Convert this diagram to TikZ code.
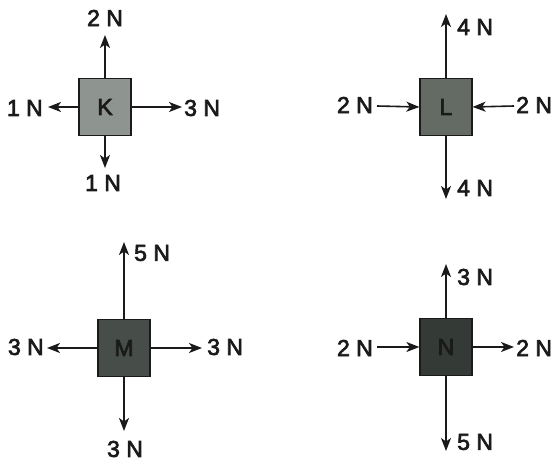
\documentclass[tikz,border=0pt]{standalone}
\usepackage{fontspec}
\setmainfont{Liberation Sans}
\newfontfamily\lblfont[FakeBold=3]{Liberation Sans}
\usetikzlibrary{arrows.meta}
\definecolor{kfill}{HTML}{8E948F}
\definecolor{lfill}{HTML}{646B65}
\definecolor{mfill}{HTML}{474E49}
\definecolor{nfill}{HTML}{343B36}
\definecolor{ink}{HTML}{1A1A1A}
\begin{document}
\begin{tikzpicture}[x=1pt,y=-1pt,
  box/.style={draw=ink, line width=1.2pt, minimum width=52pt, minimum height=57pt, inner sep=0pt, font=\lblfont\fontsize{23}{25}\selectfont, text=ink},
  force/.style={line width=1.6pt, draw=ink, -{Stealth[length=13pt,width=10pt,inset=3.5pt]}},
  lbl/.style={inner sep=0pt, font=\lblfont\fontsize{23}{25}\selectfont, text=ink}]
\useasboundingbox (0,0) rectangle (556,465);
\fill[white] (0,0) rectangle (556,465);
% K
\node[box, fill=kfill] (K) at (105,107) {K};
\coordinate (Ku) at (105,35);
\coordinate (Kl) at (48,107);
\coordinate (Kr) at (182,107);
\coordinate (Kd) at (105,168);
\draw[force] (K.north) -- (Ku);
\draw[force] (K.west) -- (Kl);
\draw[force] (K.east) -- (Kr);
\draw[force] (K.south) -- (Kd);
\node[lbl] (Kul) at (105,18) {2 N};
\node[lbl, anchor=east] (Kll) at (43,108) {1 N};
\node[lbl, anchor=west] (Krl) at (184,108) {3 N};
\node[lbl] (Kdl) at (103,183) {1 N};
% L
\node[box, fill=lfill] (L) at (446,107) {L};
\coordinate (Lu) at (446,14);
\coordinate (Ld) at (446,199);
\coordinate (Ll) at (377,106);
\coordinate (Lr) at (514,106);
\draw[force] (L.north) -- (Lu);
\draw[force] (L.south) -- (Ld);
\draw[force] (Ll) -- (L.west);
\draw[force] (Lr) -- (L.east);
\node[lbl, anchor=west] (Lul) at (457,27) {4 N};
\node[lbl, anchor=west] (Ldl) at (457,188) {4 N};
\node[lbl, anchor=east] (Lll) at (373,105) {2 N};
\node[lbl, anchor=west] (Lrl) at (516,105) {2 N};
% M
\node[box, fill=mfill] (M) at (124,348) {M};
\coordinate (Mu) at (124,242);
\coordinate (Md) at (124,431);
\coordinate (Ml) at (47,348);
\coordinate (Mr) at (202,348);
\draw[force] (M.north) -- (Mu);
\draw[force] (M.south) -- (Md);
\draw[force] (M.west) -- (Ml);
\draw[force] (M.east) -- (Mr);
\node[lbl, anchor=west] (Mul) at (134,253) {5 N};
\node[lbl, anchor=east] (Mll) at (44,347) {3 N};
\node[lbl, anchor=west] (Mrl) at (207,347) {3 N};
\node[lbl] (Mdl) at (125,449) {3 N};
% N
\node[box, fill=nfill] (N) at (446,347) {N};
\coordinate (Nu) at (446,264);
\coordinate (Nd) at (446,451);
\coordinate (Nl) at (377,347);
\coordinate (Nr) at (514,347);
\draw[force] (N.north) -- (Nu);
\draw[force] (N.south) -- (Nd);
\draw[force] (Nl) -- (N.west);
\draw[force] (N.east) -- (Nr);
\node[lbl, anchor=west] (Nul) at (457,277) {3 N};
\node[lbl, anchor=west] (Ndl) at (457,442) {5 N};
\node[lbl, anchor=east] (Nll) at (373,348) {2 N};
\node[lbl, anchor=west] (Nrl) at (516,348) {2 N};
\end{tikzpicture}
\end{document}
